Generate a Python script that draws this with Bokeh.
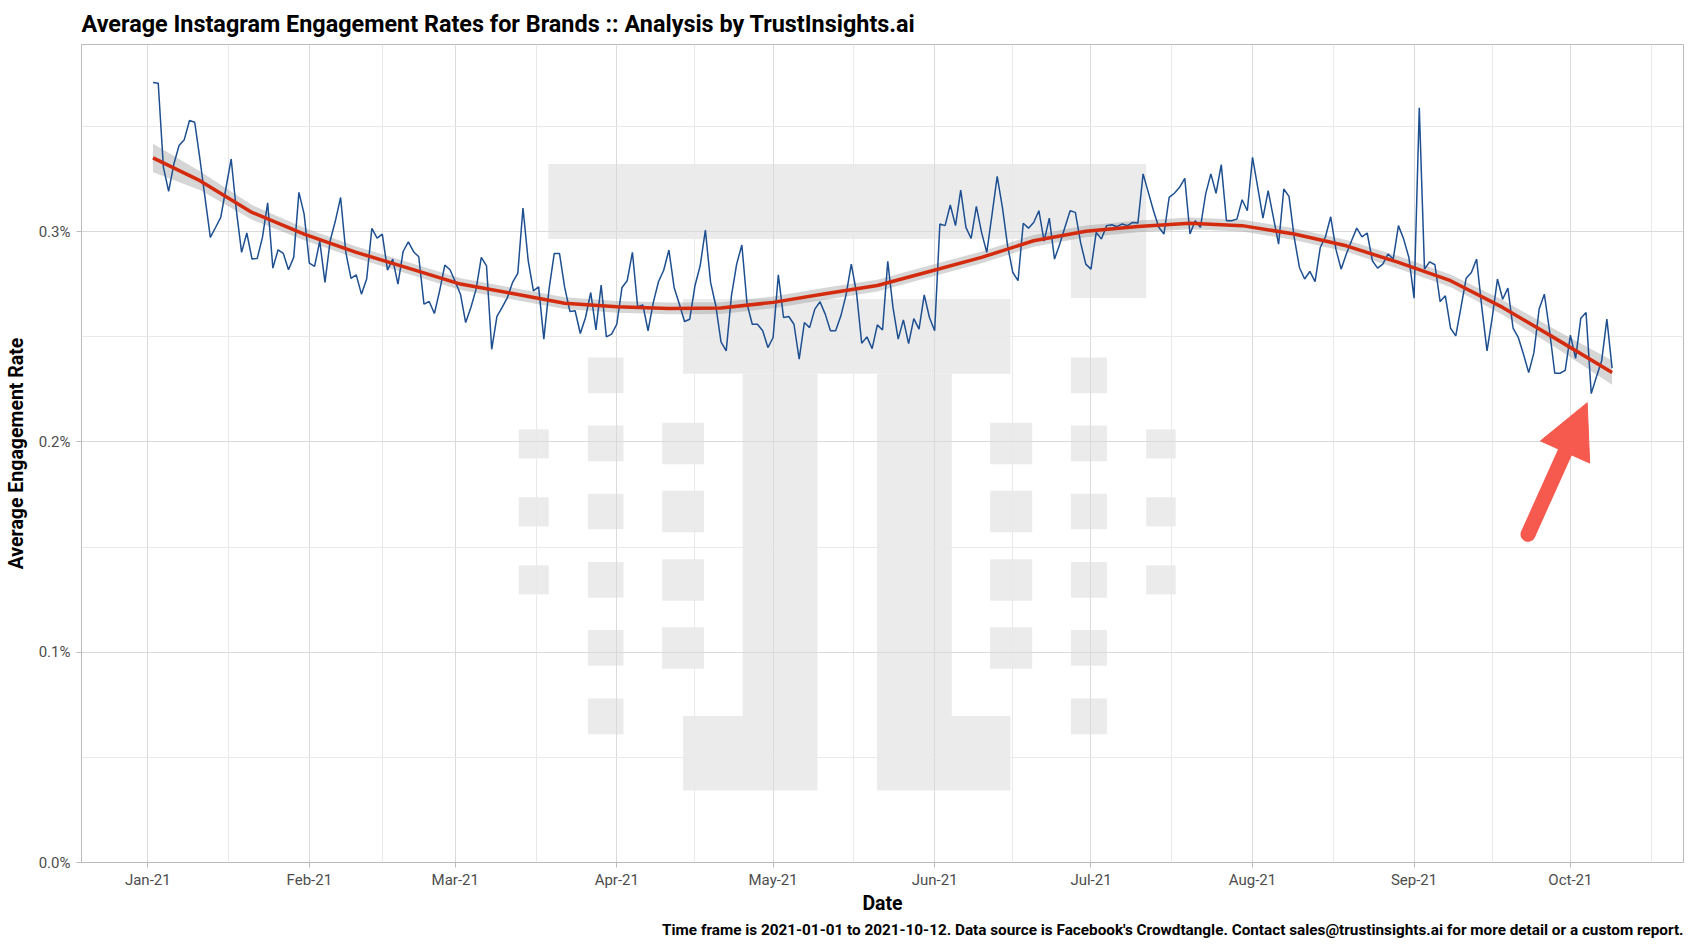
import pandas as pd
from bokeh.plotting import figure
from bokeh.models import (Range1d, FixedTicker, DatetimeTickFormatter, PrintfTickFormatter,
                          Arrow, NormalHead, Title)
from bokeh.embed import file_html
from bokeh.resources import INLINE

# ---------------- data ----------------
start_date = "2021-01-02"
engagement_pct = [
    0.3710, 0.3706, 0.3306, 0.3192, 0.3322, 0.3410, 0.3438, 0.3529, 0.3521, 0.3346,
    0.3159, 0.2973, 0.3020, 0.3068, 0.3208, 0.3346, 0.3100, 0.2902, 0.2994, 0.2870,
    0.2873, 0.2973, 0.3137, 0.2827, 0.2914, 0.2897, 0.2819, 0.2878, 0.3187, 0.3084,
    0.2851, 0.2835, 0.2955, 0.2759, 0.2957, 0.3052, 0.3163, 0.2902, 0.2778, 0.2795,
    0.2703, 0.2775, 0.3016, 0.2970, 0.2989, 0.2817, 0.2870, 0.2751, 0.2906, 0.2952,
    0.2905, 0.2881, 0.2656, 0.2668, 0.2611, 0.2719, 0.2841, 0.2819, 0.2762, 0.2703,
    0.2568, 0.2640, 0.2727, 0.2878, 0.2838, 0.2441, 0.2597, 0.2640, 0.2687, 0.2759,
    0.2802, 0.3113, 0.2862, 0.2719, 0.2738, 0.2489, 0.2727, 0.2897, 0.2897, 0.2735,
    0.2621, 0.2624, 0.2516, 0.2592, 0.2711, 0.2533, 0.2746, 0.2500, 0.2513, 0.2560,
    0.2735, 0.2767, 0.2902, 0.2643, 0.2652, 0.2529, 0.2663, 0.2762, 0.2817, 0.2913,
    0.2735, 0.2656, 0.2573, 0.2584, 0.2743, 0.2838, 0.3008, 0.2759, 0.2648, 0.2476,
    0.2433, 0.2695, 0.2846, 0.2937, 0.2656, 0.2560, 0.2560, 0.2529, 0.2449, 0.2497,
    0.2795, 0.2592, 0.2597, 0.2560, 0.2394, 0.2568, 0.2544, 0.2632, 0.2667, 0.2608,
    0.2529, 0.2529, 0.2600, 0.2700, 0.2846, 0.2711, 0.2470, 0.2500, 0.2444, 0.2557,
    0.2533, 0.2859, 0.2640, 0.2489, 0.2581, 0.2468, 0.2587, 0.2537, 0.2700, 0.2592,
    0.2529, 0.3037, 0.3029, 0.3127, 0.3029, 0.3198, 0.3021, 0.2968, 0.3121, 0.2997,
    0.2902, 0.3080, 0.3263, 0.3116, 0.2933, 0.2806, 0.2767, 0.3040, 0.3017, 0.3044,
    0.3100, 0.2955, 0.3065, 0.2870, 0.2941, 0.3021, 0.3100, 0.3092, 0.2949, 0.2846,
    0.2822, 0.2997, 0.2965, 0.3029, 0.3033, 0.3024, 0.3037, 0.3029, 0.3044, 0.3041,
    0.3275, 0.3187, 0.3100, 0.3021, 0.2989, 0.3163, 0.3183, 0.3211, 0.3254, 0.2989,
    0.3052, 0.3021, 0.3179, 0.3275, 0.3183, 0.3319, 0.3052, 0.3052, 0.3060, 0.3152,
    0.3100, 0.3354, 0.3211, 0.3065, 0.3195, 0.3068, 0.2941, 0.3203, 0.3168, 0.2973,
    0.2830, 0.2775, 0.2811, 0.2763, 0.2925, 0.2976, 0.3071, 0.2917, 0.2822, 0.2894,
    0.2957, 0.3017, 0.2976, 0.2994, 0.2862, 0.2827, 0.2846, 0.2894, 0.2870, 0.3029,
    0.2965, 0.2878, 0.2684, 0.3589, 0.2822, 0.2857, 0.2843, 0.2668, 0.2695, 0.2541,
    0.2505, 0.2640, 0.2779, 0.2806, 0.2870, 0.2640, 0.2433, 0.2592, 0.2775, 0.2679,
    0.2732, 0.2541, 0.2497, 0.2417, 0.2330, 0.2425, 0.2632, 0.2703, 0.2529, 0.2327,
    0.2327, 0.2341, 0.2508, 0.2398, 0.2589, 0.2616, 0.2230, 0.2310, 0.2386, 0.2584,
    0.2351,
]

# smoothed trend (loess) and its confidence half-width
smooth_day = [1, 10, 20, 30, 40, 50, 60, 70, 80, 90, 100, 110, 120, 130, 140,
              150, 160, 170, 180, 190, 200, 210, 220, 230, 240, 250, 260, 270, 281]
smooth_pct = [0.3351, 0.3243, 0.3092, 0.2989, 0.2902, 0.2827, 0.2751, 0.2706, 0.2660,
              0.2643, 0.2635, 0.2637, 0.2664, 0.2705, 0.2744, 0.2811, 0.2878, 0.2957,
              0.3002, 0.3025, 0.3040, 0.3029, 0.2989, 0.2933, 0.2854, 0.2767, 0.2640,
              0.2494, 0.2330]
smooth_halfwidth = [0.0068, 0.0045, 0.0035, 0.0030, 0.0028, 0.0028, 0.0028, 0.0028,
                    0.0028, 0.0028, 0.0028, 0.0028, 0.0028, 0.0028, 0.0028, 0.0028,
                    0.0028, 0.0028, 0.0028, 0.0028, 0.0028, 0.0028, 0.0028, 0.0028,
                    0.0030, 0.0030, 0.0035, 0.0042, 0.0058]

y_ticks = [0.0, 0.1, 0.2, 0.3]
y_minor_ticks = [0.05, 0.15, 0.25, 0.35]

title_text = "Average Instagram Engagement Rates for Brands :: Analysis by TrustInsights.ai"
caption_text = ("Time frame is 2021-01-01 to 2021-10-12. Data source is Facebook's Crowdtangle. "
                "Contact sales@trustinsights.ai for more detail or a custom report.")

# ---------------- helpers ----------------
FONT = "Roboto"
base = pd.Timestamp("2021-01-01")
DAY_MS = 86400000.0
base_ms = base.value / 1e6


def day_ms(d):
    return base_ms + d * DAY_MS


# reference pixel -> data (used only for decorations: logo and arrow, and the view range)
def px_day(fx):
    return (fx - 147.3) / 5.211


def px_val(fy):
    return 0.3 + (231 - fy) / 2100


dates = pd.date_range(start_date, periods=len(engagement_pct), freq="D")
s_dates = [base + pd.Timedelta(days=d) for d in smooth_day]
s_lo = [v - h for v, h in zip(smooth_pct, smooth_halfwidth)]
s_hi = [v + h for v, h in zip(smooth_pct, smooth_halfwidth)]

month_starts = pd.date_range("2021-01-01", periods=11, freq="MS")
major_ms = [t.value / 1e6 for t in month_starts[:10]]
minor_ms = [(a.value + b.value) / 2e6 for a, b in zip(month_starts[:-1], month_starts[1:])]

p = figure(width=1689, height=950, x_axis_type="datetime", output_backend="svg",
           toolbar_location=None, min_border_left=81, min_border_right=6,
           min_border_top=44, min_border_bottom=88,
           x_range=Range1d(day_ms(px_day(81)), day_ms(px_day(1683))),
           y_range=Range1d(0, px_val(44)))
p.background_fill_color = "white"
p.border_fill_color = "white"
p.outline_line_color = "#BBBBBB"
p.outline_line_width = 1

# ---- watermark logo (decoration), boxes in reference pixels ----
logo_boxes = [
    (547.8, 163.3, 1145.7, 238.2), (1070.4, 238.2, 1145.7, 297.1),
    (682.6, 298.3, 1010.0, 372.9), (742.2, 372.9, 817.0, 714.6),
    (682.6, 714.6, 817.0, 789.2), (876.5, 372.9, 951.3, 714.6),
    (876.5, 714.6, 1010.0, 789.2),
]
rows_a = [(428.4, 457.4), (496.3, 525.3), (564.2, 593.2)]
rows_b = [(356.7, 392.3), (424.6, 460.3), (492.6, 528.2), (560.9, 596.6), (628.9, 664.5), (697.2, 732.9)]
rows_c = [(421.7, 463.2), (489.7, 531.1), (558.0, 599.5), (626.0, 667.4)]
for (xa, xb), rows in [((518.3, 548.3), rows_a), ((587.4, 623.0), rows_b), ((661.7, 703.5), rows_c),
                       ((989.6, 1031.7), rows_c), ((1070.4, 1106.5), rows_b), ((1145.7, 1175.2), rows_a)]:
    for ya, yb in rows:
        logo_boxes.append((xa, ya, xb, yb))

p.quad(left=[day_ms(px_day(b[0])) for b in logo_boxes],
       right=[day_ms(px_day(b[2])) for b in logo_boxes],
       top=[px_val(b[1]) for b in logo_boxes],
       bottom=[px_val(b[3]) for b in logo_boxes],
       fill_color="#EBEBEB", line_color=None, level="image")

# ---- grids ----
p.xaxis.ticker = FixedTicker(ticks=major_ms, minor_ticks=minor_ms)
p.yaxis.ticker = FixedTicker(ticks=y_ticks, minor_ticks=y_minor_ticks)
for g in (p.xgrid, p.ygrid):
    g.grid_line_color = "#DADADA"
    g.grid_line_width = 1
    g.minor_grid_line_color = "#E9E9E9"
    g.minor_grid_line_width = 1

# ---- series ----
p.varea(x=s_dates, y1=s_lo, y2=s_hi, fill_color="#999999", fill_alpha=0.4)
p.line(x=dates, y=engagement_pct, line_color="#1D4F91", line_width=1.5)
p.line(x=s_dates, y=smooth_pct, line_color="#D42B0E", line_width=3.5, line_join="round")

# ---- arrow annotation (decoration) ----
ARROW = "#F65A4E"
tail = (1527.5, 533.2)
tip = (1586.7, 401.8)
neck = (tail[0] + 0.72 * (tip[0] - tail[0]), tail[1] + 0.72 * (tip[1] - tail[1]))
p.segment(x0=[day_ms(px_day(tail[0]))], y0=[px_val(tail[1])],
          x1=[day_ms(px_day(neck[0]))], y1=[px_val(neck[1])],
          line_color=ARROW, line_width=15, line_cap="round")
p.add_layout(Arrow(end=NormalHead(size=54, fill_color=ARROW, line_color=ARROW, line_width=1),
                   x_start=day_ms(px_day(neck[0])), y_start=px_val(neck[1]),
                   x_end=day_ms(px_day(tip[0])), y_end=px_val(tip[1]),
                   line_alpha=0))

# ---- axes ----
p.xaxis.formatter = DatetimeTickFormatter(days="%b-%y", months="%b-%y", years="%b-%y",
                                          hours="%b-%y", minutes="%b-%y")
p.yaxis.formatter = PrintfTickFormatter(format="%.1f%%")
for ax in (p.xaxis[0], p.yaxis[0]):
    ax.axis_line_color = None
    ax.major_tick_line_color = "#BBBBBB"
    ax.major_tick_out = 5
    ax.major_tick_in = 0
    ax.minor_tick_line_color = None
    ax.major_label_text_font = FONT
    ax.major_label_text_font_size = "15px"
    ax.major_label_text_color = "#4D4D4D"
    ax.axis_label_text_font = FONT
    ax.axis_label_text_font_size = "19.5px"
    ax.axis_label_text_font_style = "bold"
    ax.axis_label_text_color = "black"
p.xaxis.major_label_standoff = 3
p.yaxis.major_label_standoff = 6
p.xaxis.axis_label = "Date"
p.yaxis.axis_label = "Average Engagement Rate"
p.xaxis.axis_label_standoff = 0
p.yaxis.axis_label_standoff = 8

# ---- title and caption ----
p.title.text = title_text
p.title.text_font = FONT
p.title.text_font_size = "23.4px"
p.title.text_font_style = "bold"
p.title.text_color = "black"
p.title.text_line_height = 0.9
p.title.align = "left"
p.title.standoff = 13

p.add_layout(Title(text=caption_text, align="right", text_font=FONT, text_font_size="15.3px",
                   text_font_style="bold", text_color="black", standoff=3), "below")

open("out.html", "w").write(file_html(p, INLINE))
